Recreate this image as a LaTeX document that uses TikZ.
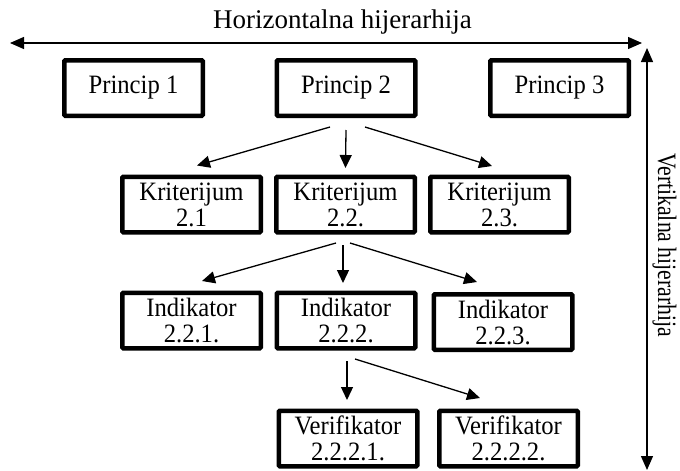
\documentclass[tikz,border=0pt]{standalone}
\usepackage{fontspec}
\setmainfont{Liberation Serif}
\newfontfamily\boxfont{Liberation Serif}[FakeStretch=0.93]
\newfontfamily\sidefont{Liberation Serif}[FakeStretch=0.82]
\usetikzlibrary{positioning, arrows.meta}
\tikzset{
  box/.style={draw, line width=4.5pt, rounded corners=1pt, minimum width=138.5pt, minimum height=55.5pt,
    align=center, font=\boxfont\fontsize{26.5}{26}\selectfont, inner sep=0pt},
  arr/.style={line width=1.3pt, -{Triangle[length=13pt,width=12pt]}},
  axis/.style={line width=1.3pt, {Triangle[length=14pt,width=12pt]}-{Triangle[length=14pt,width=12pt]}}
}

\begin{document}
\begin{tikzpicture}[x=1pt,y=-1pt]
            \useasboundingbox (0,0) rectangle (680,471);
            % principi
            \node[box] (p1) at (133.5,88) {Princip 1};
            \node[box] (p2) at (346,88) {Princip 2};
            \node[box] (p3) at (559.5,88) {Princip 3};
            % kriterijumi
            \node[box] (k1) at (191.5,204.5) {Kriterijum\\2.1};
            \node[box] (k2) at (345.5,204.5) {Kriterijum\\2.2.};
            \node[box] (k3) at (499.5,204.5) {Kriterijum\\2.3.};
            % indikatori
            \node[box] (i1) at (191.5,320.5) {Indikator\\2.2.1.};
            \node[box] (i2) at (346,320.5) {Indikator\\2.2.2.};
            \node[box] (i3) at (503,322) {Indikator\\2.2.3.};
            % verifikatori
            \node[box] (v1) at (348,438.5) {Verifikator\\2.2.2.1.};
            \node[box] (v2) at (508.5,438.5) {Verifikator\\2.2.2.2.};
            \draw[arr] ([xshift=-16pt,yshift=-9pt]p2.south) -- ([xshift=5.5pt,yshift=9pt]k1.north);
            \draw[arr] ([yshift=-12pt]p2.south) -- ([yshift=6.5pt]k2.north);
            \draw[arr] ([xshift=19pt,yshift=-9pt]p2.south) -- ([xshift=-7.5pt,yshift=8.5pt]k3.north);
            \draw[arr] ([xshift=-9.5pt,yshift=-8.5pt]k2.south) -- ([xshift=10.5pt,yshift=9.5pt]i1.north);
            \draw[arr] ([xshift=-2.5pt,yshift=-10.5pt]k2.south) -- ([xshift=-3pt,yshift=7.5pt]i2.north);
            \draw[arr] ([xshift=4.5pt,yshift=-8.5pt]k2.south) -- ([xshift=-26pt,yshift=10pt]i3.north);
            \draw[arr] ([xshift=1pt,yshift=-10.5pt]i2.south) -- ([xshift=-1pt,yshift=8.5pt]v1.north);
            \draw[arr] ([xshift=9pt,yshift=-8.5pt]i2.south) -- ([xshift=-28.5pt,yshift=10.5pt]v2.north);
            % hijerarhije
            \coordinate (hl) at (10,43);
            \coordinate (hr) at (642,43);
            \coordinate (vt) at (647,48);
            \coordinate (vb) at (647,470);
            \draw[axis] (hl) -- (hr);
            \draw[axis] (vt) -- (vb);
            \node[anchor=base west, inner sep=0pt, font=\fontsize{27}{28}\selectfont] (hh) at (213,28) {Horizontalna hijerarhija};
            \node[anchor=base west, inner sep=0pt, rotate=-90, font=\sidefont\fontsize{26.5}{28}\selectfont] (vh) at (658,153) {Vertikalna hijerarhija};
\end{tikzpicture}
\end{document}
